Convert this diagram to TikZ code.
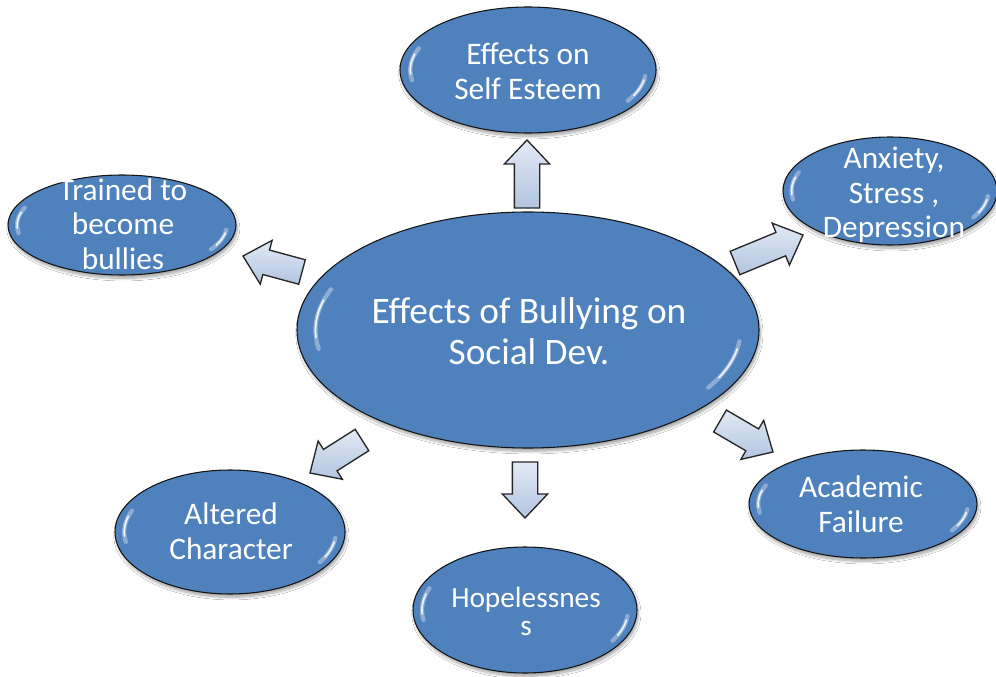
\documentclass[tikz,border=0pt]{standalone}
\usepackage{fontspec}
\setmainfont{Carlito}
\usetikzlibrary{shapes.geometric,calc,shadows.blur}

\definecolor{bubblefill}{RGB}{79,129,189}
\definecolor{bubbleedge}{RGB}{20,20,20}
\definecolor{arrowlight}{RGB}{226,234,245}
\definecolor{arrowdark}{RGB}{178,196,224}
\definecolor{arrowedge}{RGB}{38,38,38}

\tikzset{
  bubble/.style={ellipse, draw=bubbleedge, line width=0.8pt, fill=bubblefill,
    inner sep=0pt,
    blur shadow={shadow xshift=1pt, shadow yshift=-2.5pt, shadow blur steps=8, shadow opacity=35}},
  bubtext/.style={text=white, align=center, inner sep=0pt, font=\fontsize{23.5}{26}\selectfont},
  hubtext/.style={text=white, align=center, inner sep=0pt, font=\fontsize{28}{31}\selectfont},
  glintsoft/.style={white, line width=3.2pt, line cap=round, opacity=0.35},
  glint/.style={white, line width=1.3pt, line cap=round, opacity=0.85},
  blockarrow/.style={draw=arrowedge, line width=1pt, line join=miter,
    top color=arrowlight, bottom color=arrowdark}
}

% glossy highlights on the left and right rims of a bubble
\newcommand\gloss[3]{% centre, x radius, y radius (px)
  \foreach \s/\a/\b/\c/\d in {glintsoft/170/202/6/32, glint/176/196/10/26}{
    \draw[\s] ($(#1)+({0.92*#2*cos(\a)},{0.92*#3*sin(\a)})$)
      arc[start angle=\a, end angle=\b, x radius={0.92*#2}, y radius={0.92*#3}];
    \draw[\s] ($(#1)+({0.92*#2*cos(\c)},{0.92*#3*sin(\c)})$)
      arc[start angle=\c, end angle=\d, x radius={0.92*#2}, y radius={0.92*#3}];
  }
}

% block arrow from a tail coordinate to a tip coordinate
\newcommand\blockarrow[2]{%
  \filldraw[blockarrow] let \p1=(#1), \p2=(#2),
      \n1={atan2(\y2-\y1,\x2-\x1)}, \n2={veclen(\x2-\x1,\y2-\y1)} in
    [shift={(\p1)}, rotate=\n1]
    (0pt,-9.5pt) -- ({\n2-18pt},-9.5pt) -- ({\n2-18pt},-17pt) -- (\n2,0pt)
    -- ({\n2-18pt},17pt) -- ({\n2-18pt},9.5pt) -- (0pt,9.5pt) -- cycle;
}

\begin{document}
\begin{tikzpicture}[x=0.75pt,y=-0.75pt]
  \fill[white] (0,0) rectangle (996,677);
  \useasboundingbox (0,0) rectangle (996,677);

  % bubbles
  \node[bubble, minimum width=346.5pt, minimum height=177pt] (hub) at (528,330) {};
  \node[bubble, minimum width=192pt, minimum height=94.5pt] (esteem) at (528,70) {};
  \node[bubble, minimum width=171pt, minimum height=75pt] (trained) at (122,225) {};
  \node[bubble, minimum width=160.5pt, minimum height=81pt] (anxiety) at (890,191) {};
  \node[bubble, minimum width=172.5pt, minimum height=93pt] (altered) at (230,532) {};
  \node[bubble, minimum width=168pt, minimum height=94.5pt] (hope) at (525,610) {};
  \node[bubble, minimum width=171pt, minimum height=81pt] (academic) at (863,504) {};

  \gloss{hub}{231}{118}
  \gloss{esteem}{128}{63}
  \gloss{trained}{114}{50}
  \gloss{anxiety}{107}{54}
  \gloss{altered}{115}{62}
  \gloss{hope}{112}{63}
  \gloss{academic}{114}{54}

  % labels
  \node[hubtext] (hub-t) at (529,331) {Effects of Bullying on\\Social Dev.};
  \node[bubtext] (esteem-t) at (528,71) {Effects on\\Self Esteem};
  \node[bubtext] (trained-t) at (123,224) {Trained to\\become\\bullies};
  \node[bubtext] (anxiety-t) at (894,195) {Anxiety,\\Stress ,\\Depression};
  \node[bubtext] (altered-t) at (231,531) {Altered\\Character};
  \node[bubtext, font=\fontsize{22}{21}\selectfont] (hope-t) at (526,611) {Hopelessnes\\s};
  \node[bubtext] (academic-t) at (861,504) {Academic\\Failure};

  % arrow ends
  \coordinate (a1) at (527,208); \coordinate (b1) at (527,140);
  \coordinate (a2) at (525,462); \coordinate (b2) at (525,518);
  \coordinate (a3) at (302,272); \coordinate (b3) at (243,256);
  \coordinate (a4) at (735,263); \coordinate (b4) at (803,235);
  \coordinate (a5) at (720,421); \coordinate (b5) at (773,452);
  \coordinate (a6) at (362,440); \coordinate (b6) at (310,473);

  \blockarrow{a1}{b1}
  \blockarrow{a2}{b2}
  \blockarrow{a3}{b3}
  \blockarrow{a4}{b4}
  \blockarrow{a5}{b5}
  \blockarrow{a6}{b6}
\end{tikzpicture}
\end{document}
